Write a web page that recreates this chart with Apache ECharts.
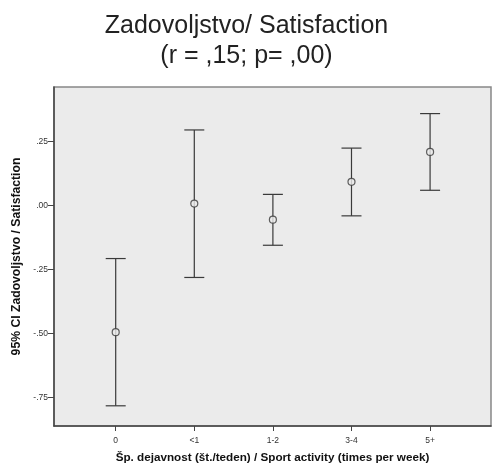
<!DOCTYPE html>
<html><head><meta charset="utf-8">
<script src="https://cdn.jsdelivr.net/npm/echarts@6/dist/echarts.min.js"></script>
<style>html,body{margin:0;padding:0;background:#fff}#c{width:493px;height:469px}</style>
</head><body><div id="c"></div>
<script>
const categories = ['0', '<1', '1-2', '3-4', '5+'];
const means = [-0.495, 0.008, -0.055, 0.093, 0.210];
const lower = [-0.783, -0.281, -0.155, -0.040, 0.060];
const upper = [-0.207, 0.296, 0.044, 0.225, 0.360];
const yTicks = [-0.75, -0.5, -0.25, 0, 0.25];
const yTickLabels = ['-.75', '-.50', '-.25', '.00', '.25'];

const idx = categories.map((c, i) => i);
const errData = idx.map(i => [i, lower[i], upper[i]]);
const meanData = idx.map(i => [i, means[i]]);

const chart = echarts.init(document.getElementById('c'));
chart.setOption({
  animation: false,
  backgroundColor: '#fff',
  title: {
    text: 'Zadovoljstvo/ Satisfaction\n(r = ,15; p= ,00)',
    left: 'center', top: 6,
    textStyle: { fontFamily: 'Liberation Sans', fontSize: 25, fontWeight: 'normal', color: '#222', lineHeight: 30 }
  },
  grid: { left: 54, right: 2, top: 87, bottom: 37, show: true, backgroundColor: '#ebebeb', borderColor: '#888', borderWidth: 1.5 },
  xAxis: {
    type: 'value', min: -0.785, max: 4.775,
    name: 'Šp. dejavnost (št./teden) / Sport activity (times per week)',
    nameLocation: 'middle', nameGap: 26,
    nameTextStyle: { fontFamily: 'Liberation Sans', fontSize: 11.7, fontWeight: 'bold', color: '#111' },
    axisLine: { show: true, onZero: false, lineStyle: { color: '#444', width: 1.5 } },
    axisTick: { show: true, customValues: idx, length: 5, lineStyle: { color: '#444' } },
    axisLabel: { customValues: idx, formatter: v => categories[Math.round(v)], margin: 10,
      fontFamily: 'Liberation Sans', fontSize: 8.5, color: '#333' },
    splitLine: { show: false }
  },
  yAxis: {
    type: 'value', min: -0.862, max: 0.464,
    name: '95% CI Zadovoljstvo / Satisfaction',
    nameLocation: 'middle', nameGap: 26, nameRotate: 90,
    nameTextStyle: { fontFamily: 'Liberation Sans', fontSize: 12.2, fontWeight: 'bold', color: '#111' },
    axisLine: { show: true, onZero: false, lineStyle: { color: '#444', width: 1.5 } },
    axisTick: { show: true, customValues: yTicks, length: 6, lineStyle: { color: '#444' } },
    axisLabel: { customValues: yTicks, margin: 6,
      formatter: v => { const k = yTicks.findIndex(t => Math.abs(t - v) < 1e-6); return k >= 0 ? yTickLabels[k] : ''; },
      fontFamily: 'Liberation Sans', fontSize: 8.5, color: '#333' },
    splitLine: { show: false }
  },
  series: [
    {
      type: 'custom',
      data: errData,
      renderItem: function (params, api) {
        const x = api.value(0);
        const lo = api.coord([x, api.value(1)]);
        const hi = api.coord([x, api.value(2)]);
        const hw = 10;
        const style = { stroke: '#3a3a3a', lineWidth: 1.2 };
        return {
          type: 'group',
          children: [
            { type: 'line', shape: { x1: lo[0], y1: lo[1], x2: hi[0], y2: hi[1] }, style },
            { type: 'line', shape: { x1: lo[0] - hw, y1: lo[1], x2: lo[0] + hw, y2: lo[1] }, style },
            { type: 'line', shape: { x1: hi[0] - hw, y1: hi[1], x2: hi[0] + hw, y2: hi[1] }, style }
          ]
        };
      },
      z: 2
    },
    {
      type: 'scatter',
      data: meanData,
      symbol: 'circle', symbolSize: 7,
      itemStyle: { color: '#ebebeb', borderColor: '#3a3a3a', borderWidth: 1.2 },
      z: 3
    }
  ]
});
</script></body></html>
